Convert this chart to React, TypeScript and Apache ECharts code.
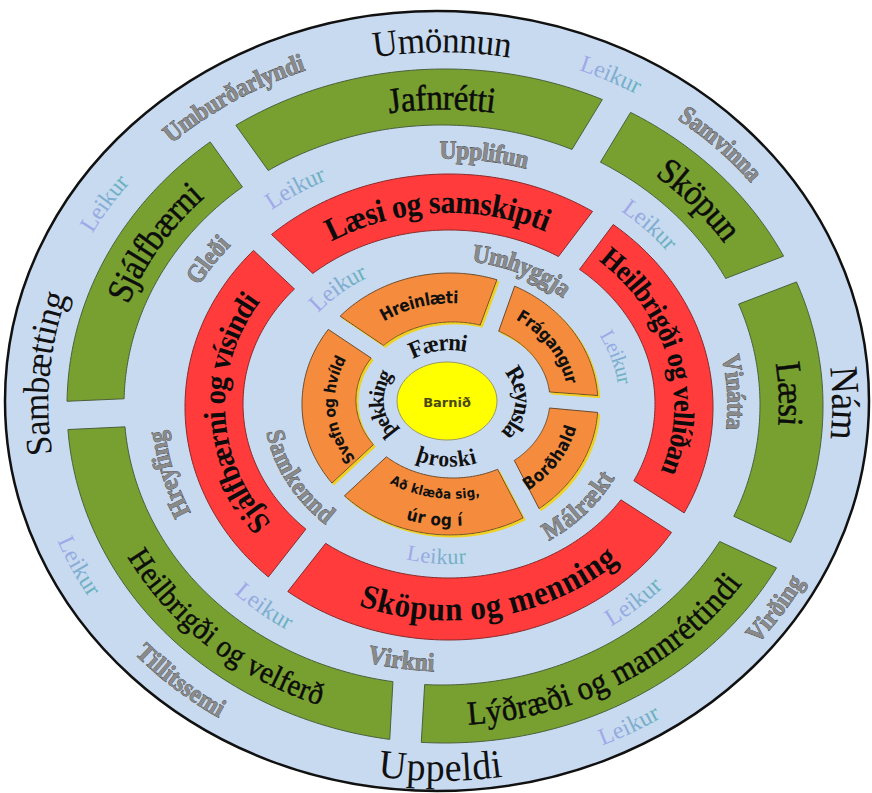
import React, { useEffect, useRef } from "react";
import * as echarts from "echarts";

// ---------- data (labels) ----------
const centerLabel = "Barnið";
const outerWords = ["Umönnun", "Nám", "Uppeldi", "Sambætting"];
const outerValues = ["Umburðarlyndi", "Samvinna", "Virðing", "Tillitssemi"];
const middleValues = ["Upplifun", "Vinátta", "Virkni", "Hreyfing", "Gleði"];
const innerValues = ["Umhyggja", "Málrækt", "Samkennd"];
const coreWords = ["Færni", "Reynsla", "þroski", "þekking"];
const greenLabels = ["Jafnrétti", "Sköpun", "Læsi", "Lýðræði og mannréttindi", "Heilbrigði og velferð", "Sjálfbærni"];
const redLabels = ["Læsi og samskipti", "Heilbrigði og vellíðan", "Sköpun og menning", "Sjálfbærni og vísindi"];
const orangeLabels = ["Hreinlæti", "Frágangur", "Borðhald", "Að klæða sig,\núr og í", "Svefn og hvíld"];
const playWord = "Leikur";

// ---------- layout ----------
type Ell = { cx: number; cy: number; rx: number; ry: number };
type P = [number, number];
type Place = [P, P, "cw" | "ccw"];

const OUTER: Ell = { cx: 437, cy: 401, rx: 432, ry: 390 };
const GREEN_OUT: Ell = { cx: 445, cy: 406, rx: 378, ry: 337 };
const GREEN_IN: Ell = { cx: 442, cy: 405, rx: 318, ry: 280 };
const RED_OUT: Ell = { cx: 449, cy: 407, rx: 264, ry: 233 };
const RED_IN: Ell = { cx: 449, cy: 404, rx: 206, ry: 174 };
const OR_OUT: Ell = { cx: 450, cy: 404, rx: 148, ry: 131 };
const OR_IN: Ell = { cx: 453, cy: 400, rx: 97, ry: 78 };
const CORE: Ell = { cx: 447, cy: 401, rx: 50, ry: 39 };

const greenBounds = [234, 297, 336, 386.3, 456, 538.4, 594];
const redBounds = [225, 305.7, 389.8, 490.4, 585];
const orangeBounds = [218.4, 292.2, 360, 416.7, 499.2, 578.4];

const greenPlace: Place[] = [
  [[381, 97], [502, 100], "cw"],
  [[658, 156], [750, 238], "cw"],
  [[788, 350], [790, 438], "cw"],
  [[468, 723], [744, 583], "ccw"],
  [[122, 558], [318, 708], "ccw"],
  [[106, 304], [201, 183], "cw"],
];
const redPlace: Place[] = [
  [[324, 228], [555, 212], "cw"],
  [[610, 248], [686, 480], "cw"],
  [[352, 616], [617, 557], "ccw"],
  [[257, 534], [239, 288], "cw"],
];
const orangePlace: Place[][] = [
  [[[368, 315], [467, 297], "cw"]],
  [[[521, 306], [572, 386], "cw"]],
  [[[530, 497], [573, 423], "ccw"]],
  [[[383, 490], [482, 500], "ccw"], [[403, 522], [464, 526], "ccw"]],
  [[[335, 472], [333, 353], "cw"]],
];
const outerWordPlace: Place[] = [
  [[372, 42], [512, 44], "cw"],
  [[848, 358], [848, 448], "cw"],
  [[374, 770], [506, 766], "ccw"],
  [[36, 456], [36, 286], "cw"],
];
const outerValuePlace: Place[] = [
  [[166, 138], [305, 64], "cw"],
  [[676, 102], [770, 182], "cw"],
  [[742, 652], [812, 566], "ccw"],
  [[132, 632], [238, 720], "ccw"],
];
const outerPlayPlace: Place[] = [
  [[576, 52], [650, 88], "cw"],
  [[70, 232], [142, 180], "cw"],
  [[52, 530], [102, 602], "ccw"],
  [[602, 750], [668, 722], "ccw"],
];
const middleValuePlace: Place[] = [
  [[412, 147], [558, 160], "cw"],
  [[743, 345], [743, 438], "cw"],
  [[360, 650], [444, 660], "ccw"],
  [[168, 535], [168, 420], "cw"],
  [[186, 292], [228, 226], "cw"],
];
const middlePlayPlace: Place[] = [
  [[262, 212], [334, 172], "cw"],
  [[615, 202], [688, 248], "cw"],
  [[222, 592], [294, 632], "ccw"],
  [[602, 624], [674, 586], "ccw"],
];
const innerValuePlace: Place[] = [
  [[465, 247], [578, 294], "cw"],
  [[548, 540], [620, 478], "ccw"],
  [[266, 425], [334, 524], "ccw"],
];
const innerPlayPlace: Place[] = [
  [[300, 310], [378, 276], "cw"],
  [[596, 336], [640, 382], "cw"],
  [[400, 578], [466, 558], "ccw"],
];
const corePlace: Place[] = [
  [[405, 352], [470, 347], "cw"],
  [[510, 368], [512, 442], "cw"],
  [[411, 464], [482, 470], "ccw"],
  [[377, 445], [380, 368], "cw"],
];

// ---------- geometry helpers ----------
const PI = Math.PI;
function lerpE(a: Ell, b: Ell, f: number): Ell {
  return {
    cx: a.cx + (b.cx - a.cx) * f,
    cy: a.cy + (b.cy - a.cy) * f,
    rx: a.rx + (b.rx - a.rx) * f,
    ry: a.ry + (b.ry - a.ry) * f,
  };
}
function pt(e: Ell, t: number): P {
  return [e.cx + e.rx * Math.cos(t), e.cy + e.ry * Math.sin(t)];
}
function paramOf(e: Ell, p: P): number {
  return Math.atan2((p[1] - e.cy) / e.ry, (p[0] - e.cx) / e.rx);
}

function segment(outer: Ell, inner: Ell, a1d: number, a2d: number, gap: number): P[] {
  const pts: P[] = [];
  const N = 80;
  const ro = (outer.rx + outer.ry) / 2;
  const ri = (inner.rx + inner.ry) / 2;
  const a1 = (a1d * PI) / 180;
  const a2 = (a2d * PI) / 180;
  const dO = Math.asin(gap / ro);
  const dI = Math.asin(gap / ri);
  for (let i = 0; i <= N; i++) {
    const t = a1 + dO + ((a2 - dO - (a1 + dO)) * i) / N;
    pts.push(pt(outer, t));
  }
  for (let i = 0; i <= N; i++) {
    const t = a2 - dI - ((a2 - dI - (a1 + dI)) * i) / N;
    pts.push(pt(inner, t));
  }
  return pts;
}

let measureCtx: CanvasRenderingContext2D | null = null;
function measure(ch: string, font: string): number {
  if (!measureCtx) measureCtx = document.createElement("canvas").getContext("2d");
  measureCtx!.font = font;
  return measureCtx!.measureText(ch).width;
}

type TStyle = {
  family: string;
  weight?: string;
  fill: string | ((i: number, n: number) => string);
  stroke?: string;
  lineWidth?: number;
  max?: number;
  condense?: number;
};

function arcText(text: string, path: Ell, place: Place, st: TStyle): any[] {
  const [p1, p2, dir] = place;
  const t1 = paramOf(path, p1);
  let t2 = paramOf(path, p2);
  if (dir === "cw") {
    while (t2 < t1) t2 += 2 * PI;
  } else {
    while (t2 > t1) t2 -= 2 * PI;
  }
  const N = 300;
  const ts: number[] = [t1];
  const ss: number[] = [0];
  let s = 0;
  let prev = pt(path, t1);
  for (let i = 1; i <= N; i++) {
    const t = t1 + ((t2 - t1) * i) / N;
    const p = pt(path, t);
    s += Math.hypot(p[0] - prev[0], p[1] - prev[1]);
    prev = p;
    ts.push(t);
    ss.push(s);
  }
  const L = s;
  const tAt = (v: number) => {
    if (v <= 0) return t1 + (t2 - t1) * (v / L);
    for (let i = 1; i < ss.length; i++) {
      if (ss[i] >= v) {
        const f = (v - ss[i - 1]) / (ss[i] - ss[i - 1] || 1);
        return ts[i - 1] + (ts[i] - ts[i - 1]) * f;
      }
    }
    return t2;
  };
  const chars = Array.from(text);
  const wt = st.weight || "normal";
  const cond = st.condense || 1;
  const font = `${wt} 100px "${st.family}"`;
  const ws = chars.map((c) => measure(c, font) * cond);
  const Wt = ws.reduce((a, b) => a + b, 0);
  let size = (100 * L) / Wt;
  if (st.max && size > st.max) size = st.max;
  const used = (Wt * size) / 100;
  const off = (L - used) / 2;
  let acc = 0;
  const sg = dir === "cw" ? 1 : -1;
  return chars.map((c, i) => {
    const sc = off + ((acc + ws[i] / 2) * size) / 100;
    acc += ws[i];
    const t = tAt(sc);
    const [x, y] = pt(path, t);
    const dx = -path.rx * Math.sin(t) * sg;
    const dy = path.ry * Math.cos(t) * sg;
    const rot = -Math.atan2(dy, dx);
    const fill = typeof st.fill === "function" ? st.fill(i, chars.length) : st.fill;
    return {
      type: "text",
      x,
      y,
      rotation: rot,
      scaleX: cond,
      z: 10,
      silent: true,
      style: {
        text: c,
        fontSize: size,
        fontFamily: st.family,
        fontWeight: wt,
        fill,
        stroke: st.stroke || "transparent",
        lineWidth: st.lineWidth || 0,
        align: "center",
        verticalAlign: "middle",
        textAlign: "center",
        textVerticalAlign: "middle",
      },
    };
  });
}

// ---------- styles ----------
const SERIF = "Liberation Serif";
const BG = "#c8daf0";
const GREEN = "#77a030";
const RED = "#ff3b3b";
const ORANGE = "#f58c3c";
const YELLOW = "#ffff00";

const blackStyle: TStyle = { family: SERIF, fill: "#111111", max: 40, condense: 0.95 };
const grayStyle: TStyle = { family: SERIF, weight: "bold", fill: "#8a8a8a", stroke: "#333333", lineWidth: 0.7, max: 26, condense: 0.9 };
const leikurStyle: TStyle = {
  family: SERIF,
  max: 24,
  fill: (i, n) => {
    const f = n > 1 ? i / (n - 1) : 0;
    const a = [160, 168, 232];
    const b = [104, 178, 190];
    const c = a.map((v, k) => Math.round(v + (b[k] - v) * f));
    return `rgb(${c[0]},${c[1]},${c[2]})`;
  },
};
const greenText: TStyle = { family: SERIF, fill: "#0c0c0c", stroke: "#0c0c0c", lineWidth: 0.5, max: 36, condense: 0.92 };
const redText: TStyle = { family: SERIF, weight: "bold", fill: "#0c0c0c", max: 34, condense: 0.92 };
const orangeText: TStyle = { family: "DejaVu Sans", weight: "bold", fill: "#111111", max: 17, condense: 0.9 };
const coreText: TStyle = { family: SERIF, weight: "bold", fill: "#111111", max: 24, condense: 0.95 };

function buildGraphics(): any[] {
  const els: any[] = [];
  els.push({
    type: "ellipse",
    z: 0,
    silent: true,
    shape: { cx: OUTER.cx, cy: OUTER.cy, rx: OUTER.rx, ry: OUTER.ry },
    style: { fill: BG, stroke: "#111111", lineWidth: 2.5 },
  });
  const ring = (bounds: number[], out: Ell, inn: Ell, gap: number, color: string, stroke: string, shadow?: string) => {
    for (let i = 0; i < bounds.length - 1; i++) {
      const style: any = { fill: color, stroke, lineWidth: 1 };
      if (shadow) {
        style.shadowColor = shadow;
        style.shadowBlur = 0;
        style.shadowOffsetX = 2;
        style.shadowOffsetY = 2;
      }
      els.push({
        type: "polygon",
        z: 1,
        silent: true,
        shape: { points: segment(out, inn, bounds[i], bounds[i + 1], gap) },
        style,
      });
    }
  };
  ring(greenBounds, GREEN_OUT, GREEN_IN, 15, GREEN, "#4d5f3a");
  ring(redBounds, RED_OUT, RED_IN, 12, RED, "#8a2a2a");
  ring(orangeBounds, OR_OUT, OR_IN, 9, ORANGE, "#6b4a2a", "#f0d020");
  els.push({
    type: "ellipse",
    z: 1,
    silent: true,
    shape: { cx: CORE.cx, cy: CORE.cy, rx: CORE.rx, ry: CORE.ry },
    style: { fill: YELLOW, stroke: "#9a9a60", lineWidth: 1 },
  });
  els.push({
    type: "text",
    z: 10,
    silent: true,
    x: CORE.cx,
    y: CORE.cy + 1,
    style: {
      text: centerLabel,
      fontSize: 13,
      fontFamily: "DejaVu Sans",
      fontWeight: "bold",
      fill: "#4a4a10",
      align: "center",
      verticalAlign: "middle",
      textAlign: "center",
      textVerticalAlign: "middle",
    },
  });

  const outerBand = lerpE(OUTER, GREEN_OUT, 0.5);
  const middleBand = lerpE(GREEN_IN, RED_OUT, 0.5);
  const innerBand = lerpE(RED_IN, OR_OUT, 0.5);
  const coreBand = lerpE(OR_IN, CORE, 0.5);
  const greenMid = lerpE(GREEN_OUT, GREEN_IN, 0.5);
  const redMid = lerpE(RED_OUT, RED_IN, 0.5);
  const orMid = lerpE(OR_OUT, OR_IN, 0.5);

  greenLabels.forEach((l, i) => els.push(...arcText(l, greenMid, greenPlace[i], greenText)));
  redLabels.forEach((l, i) => els.push(...arcText(l, redMid, redPlace[i], redText)));
  orangeLabels.forEach((l, i) => {
    const lines = l.split("\n");
    lines.forEach((line, j) => {
      const path = lines.length > 1 ? lerpE(OR_OUT, OR_IN, j === 0 ? 0.72 : 0.26) : orMid;
      els.push(...arcText(line, path, orangePlace[i][j], orangeText));
    });
  });
  outerWords.forEach((l, i) => els.push(...arcText(l, outerBand, outerWordPlace[i], blackStyle)));
  outerValues.forEach((l, i) => els.push(...arcText(l, outerBand, outerValuePlace[i], grayStyle)));
  outerPlayPlace.forEach((p) => els.push(...arcText(playWord, outerBand, p, leikurStyle)));
  middleValues.forEach((l, i) => els.push(...arcText(l, middleBand, middleValuePlace[i], grayStyle)));
  middlePlayPlace.forEach((p) => els.push(...arcText(playWord, middleBand, p, leikurStyle)));
  innerValues.forEach((l, i) => els.push(...arcText(l, innerBand, innerValuePlace[i], grayStyle)));
  innerPlayPlace.forEach((p) => els.push(...arcText(playWord, innerBand, p, leikurStyle)));
  coreWords.forEach((l, i) => els.push(...arcText(l, coreBand, corePlace[i], coreText)));
  return els;
}

export default function App() {
  const ref = useRef<HTMLDivElement>(null);
  useEffect(() => {
    if (!ref.current) return;
    const chart = echarts.init(ref.current, undefined, { renderer: "svg" });
    chart.setOption({
      animation: false,
      backgroundColor: "#ffffff",
      graphic: { elements: buildGraphics() },
    });
    return () => chart.dispose();
  }, []);
  return (
    <div
      ref={ref}
      style={{ position: "fixed", left: 0, top: 0, width: 872, height: 793 }}
    />
  );
}
